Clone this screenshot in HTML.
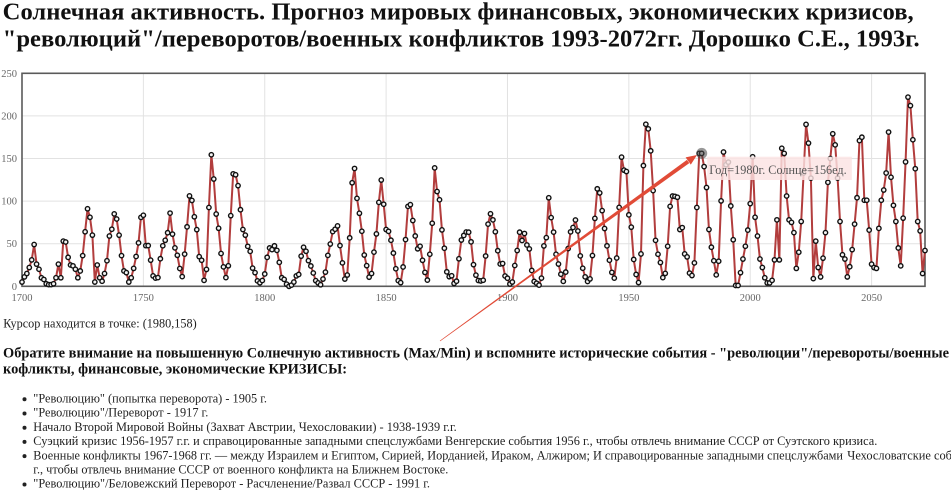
<!DOCTYPE html>
<html><head><meta charset="utf-8">
<style>
html,body{margin:0;padding:0;background:#fff;width:951px;height:490px;overflow:hidden}
svg{display:block}
text{font-family:"Liberation Serif","DejaVu Serif",serif}
</style></head><body>
<svg id="s" width="951" height="490" viewBox="0 0 951 490" xmlns="http://www.w3.org/2000/svg">
<!-- Title -->
<text x="2.7" y="19.5" font-size="24" font-weight="bold" fill="#111" textLength="911" lengthAdjust="spacingAndGlyphs">Солнечная активность. Прогноз мировых финансовых, экономических кризисов,</text>
<text x="2.7" y="46.5" font-size="24" font-weight="bold" fill="#111" textLength="917" lengthAdjust="spacingAndGlyphs">"революций"/переворотов/военных конфликтов 1993-2072гг. Дорошко С.Е., 1993г.</text>

<!-- grid -->
<g stroke="#e2e2e2" stroke-width="1">
<line x1="143.37" y1="73.3" x2="143.37" y2="286.3"/>
<line x1="264.74" y1="73.3" x2="264.74" y2="286.3"/>
<line x1="386.11" y1="73.3" x2="386.11" y2="286.3"/>
<line x1="507.48" y1="73.3" x2="507.48" y2="286.3"/>
<line x1="628.85" y1="73.3" x2="628.85" y2="286.3"/>
<line x1="750.22" y1="73.3" x2="750.22" y2="286.3"/>
<line x1="871.59" y1="73.3" x2="871.59" y2="286.3"/>
<line x1="22" y1="243.7" x2="925" y2="243.7"/>
<line x1="22" y1="201.1" x2="925" y2="201.1"/>
<line x1="22" y1="158.5" x2="925" y2="158.5"/>
<line x1="22" y1="115.9" x2="925" y2="115.9"/>
</g>
<rect x="22" y="73.3" width="903" height="213" fill="none" stroke="#5a5a5a" stroke-width="1.6"/>

<!-- tick labels -->
<g font-size="10.5" fill="#666" text-anchor="end">
<text x="17" y="289.8">0</text>
<text x="17" y="247.2">50</text>
<text x="17" y="204.6">100</text>
<text x="17" y="162">150</text>
<text x="17" y="119.4">200</text>
<text x="17" y="76.8">250</text>
</g>
<g font-size="10.5" fill="#666" text-anchor="middle">
<text x="22" y="301">1700</text>
<text x="143.37" y="301">1750</text>
<text x="264.74" y="301">1800</text>
<text x="386.11" y="301">1850</text>
<text x="507.48" y="301">1900</text>
<text x="628.85" y="301">1950</text>
<text x="750.22" y="301">2000</text>
<text x="871.59" y="301">2050</text>
</g>

<g id="series"></g>

<!-- highlight -->
<circle cx="701.7" cy="153.4" r="5.5" fill="#444" opacity="0.55"/>

<!-- tooltip -->
<rect x="707.3" y="156.7" width="144.5" height="23.3" fill="#fbe3e3" opacity="0.82"/>
<text x="709.3" y="174" font-size="13" fill="#555" textLength="137.4" lengthAdjust="spacingAndGlyphs">Год=1980г. Солнце=156ед.</text>

<!-- arrow -->
<polygon points="440.2,341.2 439.8,340.8 686.9,159.9 689.3,163.1" fill="#e14b37"/>
<polygon points="697,155 690.8,164.6 685.6,157.4" fill="#e14b37"/>

<!-- texts below -->
<text x="3.3" y="327.7" font-size="13" fill="#222" textLength="193.4" lengthAdjust="spacingAndGlyphs">Курсор находится в точке: (1980,158)</text>
<text x="3" y="357.3" font-size="15" font-weight="bold" fill="#111" textLength="946" lengthAdjust="spacingAndGlyphs">Обратите внимание на повышенную Солнечную активность (Max/Min) и вспомните исторические события - "революции"/перевороты/военные</text>
<text x="3" y="373.3" font-size="15" font-weight="bold" fill="#111" textLength="344" lengthAdjust="spacingAndGlyphs">кофликты, финансовые, экономические КРИЗИСЫ:</text>

<g fill="#222">
<circle cx="24.5" cy="399.3" r="2"/>
<circle cx="24.5" cy="413.5" r="2"/>
<circle cx="24.5" cy="427.7" r="2"/>
<circle cx="24.5" cy="441.9" r="2"/>
<circle cx="24.5" cy="456.1" r="2"/>
<circle cx="24.5" cy="484.5" r="2"/>
</g>
<g font-size="13" fill="#222">
<text x="33.3" y="402.5" textLength="233.7" lengthAdjust="spacingAndGlyphs">"Революцию" (попытка переворота) - 1905 г.</text>
<text x="33.3" y="416.7" textLength="175" lengthAdjust="spacingAndGlyphs">"Революцию"/Переворот - 1917 г.</text>
<text x="33.3" y="430.9" textLength="423.4" lengthAdjust="spacingAndGlyphs">Начало Второй Мировой Войны (Захват Австрии, Чехословакии) - 1938-1939 г.г.</text>
<text x="33.3" y="445.1" textLength="844" lengthAdjust="spacingAndGlyphs">Суэцкий кризис 1956-1957 г.г. и справоцированные западными спецслужбами Венгерские события 1956 г., чтобы отвлечь внимание СССР от Суэтского кризиса.</text>
<text x="33.3" y="459.3" textLength="809.7" lengthAdjust="spacingAndGlyphs">Военные конфликты 1967-1968 гг. — между Израилем и Египтом, Сирией, Иорданией, Ираком, Алжиром; И справоцированные западными спецслужбами</text>
<text x="847.3" y="459.3" font-size="12.4">Чехословатские события 1968</text>
<text x="33.3" y="473.5" textLength="415" lengthAdjust="spacingAndGlyphs">г., чтобы отвлечь внимание СССР от военного конфликта на Ближнем Востоке.</text>
<text x="33.3" y="487.7" textLength="396.7" lengthAdjust="spacingAndGlyphs">"Революцию"/Беловежский Переворот - Расчленение/Развал СССР - 1991 г.</text>
</g>
</svg>
<script>
(function(){
var pre=[5,11,15,22,31,49,26,20,10,8,3,2,2,3,10,26,10,53,52,34,25,24,20,10,18,36,64,91,81,60,5,25,10,6,15,30,59,67,85,79,60,36,18,16,5,10,21,35,51];
var std=[80.9,83.4,47.7,47.8,30.7,12.2,9.6,10.2,32.4,47.6,
54.0,62.9,85.9,61.2,45.1,36.4,20.9,11.4,37.8,69.8,
106.1,100.8,81.6,66.5,34.8,30.6,7.0,19.8,92.5,154.4,
125.9,84.8,68.1,38.5,22.8,10.2,24.1,82.9,132.0,130.9,
118.1,89.9,66.6,60.0,46.9,41.0,21.3,16.0,6.4,4.1,
6.8,14.5,34.0,45.0,43.1,47.5,42.2,28.1,10.1,8.1,
2.5,0.0,1.4,5.0,12.2,13.9,35.4,45.8,41.1,30.1,
23.9,15.6,6.6,4.0,1.8,8.5,16.6,36.3,49.6,64.2,
67.0,70.9,47.8,27.5,8.5,13.2,56.9,121.5,138.3,103.2,
85.7,64.6,36.7,24.2,10.7,15.0,40.1,61.5,98.5,124.7,
96.3,66.6,64.5,54.1,39.0,20.6,6.7,4.3,22.7,54.8,
93.8,95.8,77.2,59.1,44.0,47.0,30.5,16.3,7.3,37.6,
74.0,139.0,111.2,101.6,66.2,44.7,17.0,11.3,12.4,3.4,
6.0,32.3,54.3,59.7,63.7,63.5,52.2,25.4,13.1,6.8,
6.3,7.1,35.6,73.0,85.1,78.0,64.0,41.8,26.2,26.7,
12.1,9.5,2.7,5.0,24.4,42.0,63.5,53.8,62.0,48.5,
43.9,18.6,5.7,3.6,1.4,9.6,47.4,57.1,103.9,80.6,
63.6,37.6,26.1,14.2,5.8,16.7,44.3,63.9,69.0,77.8,
64.9,35.7,21.2,11.1,5.7,8.7,36.1,79.7,114.4,109.6,
88.8,67.8,47.5,30.6,16.3,9.6,33.2,92.6,151.6,136.3,
134.7,83.9,69.4,31.5,13.9,4.4,38.0,141.7,190.2,184.8,
159.0,112.3,53.9,37.6,27.9,10.2,15.1,47.0,93.8,105.9,
105.5,104.5,66.6,68.9,38.0,34.5,15.5,12.6,27.5,92.5,
156,156,140.5,115.9,66.6,45.9,30,13.4,29.4,100.2,
157.6,142.6,145.7,94.3,54.6];
var fc=[1,1,16,32,47,66,97,152,81,59,
32,22,10,4,4,7,31,78,31,162,
156,106,78,75,63,21,40,76,133,190,
168,127,9,53,22,11,33,63,122,150,
179,166,127,76,37,32,11,23,43,73,
104,171,175,101,101,66,26,22,21,68,
101,113,133,181,128,95,76,45,24,80,
146,222,212,172,138,76,65,15,42];
var d=pre.concat(std,fc);
var NS="http://www.w3.org/2000/svg";
var g=document.getElementById("series");
var pts=[];
for(var i=0;i<d.length;i++){
  var x=22+i*2.4274, y=286.3-d[i]*0.852;
  pts.push(x.toFixed(2)+","+y.toFixed(2));
}
var pl=document.createElementNS(NS,"polyline");
pl.setAttribute("points",pts.join(" "));
pl.setAttribute("fill","none");
pl.setAttribute("stroke","#b23d3d");
pl.setAttribute("stroke-width","2");
pl.setAttribute("stroke-linejoin","round");
g.appendChild(pl);
for(var j=0;j<d.length;j++){
  var c=document.createElementNS(NS,"circle");
  var p=pts[j].split(",");
  c.setAttribute("cx",p[0]);c.setAttribute("cy",p[1]);
  c.setAttribute("r","2.2");
  c.setAttribute("fill","#f4f4f4");
  c.setAttribute("stroke","#111");
  c.setAttribute("stroke-width","1.4");
  g.appendChild(c);
}
})();
</script>
</body></html>
